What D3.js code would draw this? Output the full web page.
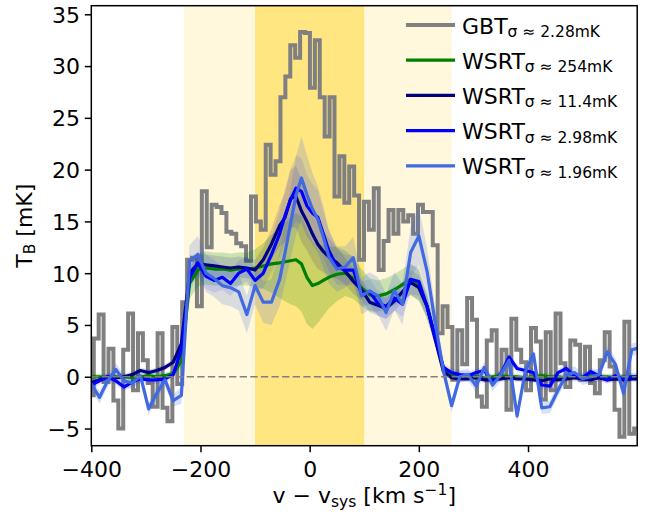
<!DOCTYPE html>
<html>
<head>
<meta charset="utf-8">
<script src="https://cdn.jsdelivr.net/npm/d3@7"></script>
<style>
  html, body { margin: 0; padding: 0; background: #fff; }
  svg { display: block; font-family: "DejaVu Sans", sans-serif; }
</style>
</head>
<body>
<svg id="chart" width="652" height="518"></svg>
<script>
// ---- GBT single-dish spectrum (km/s, mK) ----
const gbtVel = [
  -400,-391,-382,-373,-364,-355,-346,-337,-328,-319,
  -310,-301,-292,-283,-274,-265,-256,-247,-238,-229,
  -220,-211,-202,-193,-184,-175,-166,-157,-148,-139,
  -130,-121,-112,-103,-94,-85,-76,-67,-58,-49,
  -40,-31,-22,-13,-4,5,14,23,32,41,
  50,59,68,77,86,95,104,113,122,131,
  140,149,158,167,176,185,194,203,212,221,
  230,239,248,257,266,275,284,293,302,311,
  320,329,338,347,356,365,374,383,392,401,
  410,419,428,437,446,455,464,473,482,491,
  500,509,518,527,536,545,554,563,572,581,
  590,599
];
const gbtTB = [
  -1.8,3.7,6.0,-0.5,2.7,-2.3,-5.0,2.6,6.1,-1.3,
  4.2,1.6,-0.6,-2.9,4.2,-3.0,-4.3,4.8,-0.7,7.2,
  11.3,11.5,6.8,17.9,12.5,16.6,16.4,15.8,14.0,13.8,
  12.9,12.6,11.2,17.4,15.0,14.2,22.4,19.5,20.8,27.0,
  29.0,32.0,30.8,33.3,33.2,27.9,32.5,27.0,23.2,27.0,
  17.4,21.3,16.8,20.3,17.5,11.3,16.9,14.2,18.2,10.3,
  13.1,16.1,13.8,16.1,15.0,15.6,13.8,16.6,15.9,15.9,
  12.7,4.2,6.8,4.8,-0.3,4.5,1.2,7.6,5.5,-1.9,
  -2.9,3.5,4.5,0.3,2.6,-3.2,5.6,2.6,1.4,-1.3,
  4.7,3.4,-2.2,4.3,-1.3,6.1,1.3,-1.0,3.5,3.1,
  -0.3,2.9,-0.6,-1.6,1.6,4.3,1.0,-3.2,-5.8,5.3,
  -5.5,-5.0
];

// ---- WSRT spectra on a shared velocity grid (km/s) ----
const wsrtVel = [
  -400,-385,-370,-355,-340,-325,-310,-295,-280,-265,-250,
  -235,-220,-205,-190,-175,-160,-145,-130,-115,-100,-85,
  -70,-55,-45,-35,-25,-15,-5,5,15,25,35,
  50,65,80,95,110,125,140,155,170,185,200,
  215,230,245,260,275,290,305,320,335,350,365,
  380,395,410,425,440,455,470,485,500,515,530,
  545,560,575,590,605
];
// sigma ~ 254 mK
const wsrt254 = [
  0.0,0.0,-0.1,0.0,0.0,-0.1,0.0,0.1,0.0,0.1,0.3,
  1.5,9.0,10.3,10.5,10.4,10.4,10.3,10.4,10.4,10.5,10.7,
  10.9,11.0,11.1,11.2,11.3,10.9,9.6,8.8,9.0,9.3,9.6,
  9.9,10.0,9.5,8.6,7.9,7.8,8.0,8.4,8.9,9.4,8.8,
  6.8,3.8,0.8,0.1,0.0,0.1,0.0,-0.1,0.0,0.1,0.0,
  0.0,-0.1,0.0,0.1,0.0,0.0,-0.1,0.0,0.0,0.1,0.0,
  0.0,-0.1,0.0,0.0,0.0
];
const wsrt254Err = [
  0.3,0.3,0.3,0.3,0.3,0.3,0.3,0.3,0.3,0.3,0.3,
  0.6,1.5,1.6,1.6,1.6,1.6,1.6,1.6,1.6,1.8,2.2,
  2.8,3.4,3.8,4.2,4.5,4.6,4.5,4.2,3.8,3.4,3.0,
  2.6,2.2,2.0,1.8,1.6,1.5,1.5,1.5,1.5,1.5,1.5,
  1.2,0.8,0.4,0.3,0.3,0.3,0.3,0.3,0.3,0.3,0.3,
  0.3,0.3,0.3,0.3,0.3,0.3,0.3,0.3,0.3,0.3,0.3,
  0.3,0.3,0.3,0.3,0.3
];
// sigma ~ 11.4 mK
const wsrt114 = [
  -0.6,-0.3,0.0,-0.1,0.0,0.2,0.6,0.4,0.6,0.9,1.4,
  3.2,10.0,10.9,10.8,10.7,10.6,10.5,10.6,10.5,10.3,11.3,
  12.8,14.6,15.4,17.2,17.4,16.0,15.0,13.8,12.8,12.1,11.6,
  11.0,10.2,9.2,8.4,7.2,6.9,6.6,7.3,8.2,9.1,8.6,
  6.8,3.6,0.5,-0.1,-0.2,-0.2,-0.1,-0.3,-0.3,-0.2,-0.1,
  -0.2,-0.2,-0.3,-0.4,-0.2,-0.3,-0.2,-0.1,-0.2,-0.3,-0.1,
  -0.3,-0.2,-0.3,-0.2,-0.2
];
const wsrt114Err = [
  0.3,0.3,0.3,0.3,0.3,0.3,0.3,0.3,0.3,0.3,0.3,
  0.5,1.0,1.0,1.0,1.0,1.0,1.0,1.0,1.0,1.0,1.2,
  1.5,2.0,2.4,2.8,3.0,3.0,2.8,2.6,2.4,2.0,1.8,
  1.5,1.3,1.2,1.0,1.0,1.0,1.0,1.0,1.0,1.2,1.2,
  1.0,0.6,0.3,0.3,0.3,0.3,0.3,0.3,0.3,0.3,0.3,
  0.3,0.3,0.3,0.3,0.3,0.3,0.3,0.3,0.3,0.3,0.3,
  0.3,0.3,0.3,0.3,0.3
];
// sigma ~ 2.98 mK
const wsrt298 = [
  -0.8,-0.4,0.0,-0.4,-1.0,-0.5,-0.2,-0.3,-0.3,-0.2,0.2,
  2.6,9.5,11.0,9.7,9.3,9.6,9.0,10.0,10.4,9.3,10.0,
  11.8,13.8,15.6,17.1,18.2,17.9,16.5,15.8,15.4,13.8,12.2,
  10.6,10.3,10.3,8.0,8.2,7.1,6.8,7.6,7.0,9.4,9.2,
  6.8,3.8,0.9,0.4,0.2,0.1,0.4,0.6,-0.5,0.2,1.9,
  0.8,0.6,0.4,-0.8,-0.9,0.4,0.8,0.1,-0.1,0.5,0.1,
  -0.3,0.1,-0.2,0.0,0.0
];
const wsrt298Err = [
  0.4,0.4,0.4,0.4,0.4,0.4,0.4,0.4,0.4,0.4,0.4,
  0.6,1.2,1.2,1.2,1.2,1.2,1.2,1.2,1.2,1.2,1.4,
  1.7,2.2,2.6,3.0,3.2,3.2,3.0,2.8,2.6,2.2,2.0,
  1.7,1.5,1.4,1.2,1.2,1.2,1.2,1.2,1.2,1.4,1.4,
  1.2,0.8,0.4,0.4,0.4,0.4,0.4,0.4,0.4,0.4,0.4,
  0.4,0.4,0.4,0.4,0.4,0.4,0.4,0.4,0.4,0.4,0.4,
  0.4,0.4,0.4,0.4,0.4
];
// sigma ~ 1.96 mK
const wsrt196 = [
  -0.7,-2.0,-0.4,0.7,-0.4,-0.6,0.1,-3.1,-1.6,-0.3,-2.3,
  -1.8,11.2,11.8,10.0,9.5,8.8,8.6,8.2,6.0,8.8,7.2,
  7.2,9.4,12.0,14.8,17.5,19.2,17.6,16.2,15.2,13.5,11.6,
  10.4,10.6,11.5,7.8,8.3,7.8,6.2,8.3,7.0,12.0,13.6,
  10.2,5.2,0.6,-2.8,0.0,0.2,-0.9,0.9,-0.8,0.2,1.6,
  -3.8,0.5,2.2,-3.0,-2.9,-1.3,0.2,0.4,-0.2,0.0,0.2,
  2.4,1.2,-1.6,2.6,2.8
];
const wsrt196Err = [
  0.6,0.6,0.6,0.6,0.6,0.6,0.6,0.6,0.6,0.6,0.6,
  0.8,1.5,1.8,1.8,1.8,1.8,1.8,1.8,1.8,1.8,2.0,
  2.2,2.6,3.0,3.4,3.8,4.0,3.8,3.5,3.2,3.0,2.6,
  2.2,2.0,2.0,1.8,1.8,1.8,1.8,1.8,2.0,2.4,2.8,
  2.2,1.5,0.8,0.6,0.6,0.6,0.6,0.6,0.6,0.6,0.6,
  0.6,0.6,0.6,0.6,0.6,0.6,0.6,0.6,0.6,0.6,0.6,
  0.6,0.6,0.6,0.6,0.6
];

// ---- labels, ticks and highlighted velocity ranges ----
const legendNames = ["GBT", "WSRT", "WSRT", "WSRT", "WSRT"];
const legendSubs = ["σ ≈ 2.28mK", "σ ≈ 254mK", "σ ≈ 11.4mK", "σ ≈ 2.98mK", "σ ≈ 1.96mK"];
const lineColors = ["#808080", "#008000", "#000080", "#0000ff", "#4169e1"];
const xTicks = [-400, -200, 0, 200, 400];
const yTicks = [-5, 0, 5, 10, 15, 20, 25, 30, 35];
const outerRange = [-230, 260];
const innerRange = [-100, 100];

// ---- layout ----
const svg = d3.select("#chart");
const box = { left: 91.3, right: 637.2, top: 5.7, bottom: 445.7 };
const x = d3.scaleLinear().domain([-400, 600]).range([box.left, box.right]);
const y = d3.scaleLinear().domain([-6.66, 35.83]).range([box.bottom, box.top]);
const FS = 22, FS_SUB = 15.5;

svg.append("defs").append("clipPath").attr("id", "plotClip")
  .append("rect")
  .attr("x", box.left).attr("y", box.top)
  .attr("width", box.right - box.left).attr("height", box.bottom - box.top);

const plot = svg.append("g").attr("clip-path", "url(#plotClip)");

// shaded velocity ranges
plot.append("rect")
  .attr("x", x(outerRange[0])).attr("y", box.top)
  .attr("width", x(outerRange[1]) - x(outerRange[0]))
  .attr("height", box.bottom - box.top)
  .attr("fill", "#fff8dc");
plot.append("rect")
  .attr("x", x(innerRange[0])).attr("y", box.top)
  .attr("width", x(innerRange[1]) - x(innerRange[0]))
  .attr("height", box.bottom - box.top)
  .attr("fill", "#ffe680");

// GBT step spectrum
const gbt = gbtVel.map((v, i) => ({ v, t: gbtTB[i] }));
plot.append("path")
  .datum(gbt)
  .attr("fill", "none")
  .attr("stroke", lineColors[0])
  .attr("stroke-width", 4)
  .attr("stroke-linejoin", "miter")
  .attr("d", d3.line().x(d => x(d.v)).y(d => y(d.t)).curve(d3.curveStep));

// WSRT spectra with their uncertainty bands
const wsrtSeries = [
  { vals: wsrt254, err: wsrt254Err, color: lineColors[1], alpha: 0.2 },
  { vals: wsrt114, err: wsrt114Err, color: lineColors[2], alpha: 0.13 },
  { vals: wsrt298, err: wsrt298Err, color: lineColors[3], alpha: 0.1 },
  { vals: wsrt196, err: wsrt196Err, color: lineColors[4], alpha: 0.2 }
];
const rows = s => wsrtVel.map((v, i) => ({ v, t: s.vals[i], e: s.err[i] }));

wsrtSeries.forEach(s => {
  plot.append("path")
    .datum(rows(s))
    .attr("fill", s.color)
    .attr("fill-opacity", s.alpha)
    .attr("stroke", "none")
    .attr("d", d3.area().x(d => x(d.v)).y0(d => y(d.t - d.e)).y1(d => y(d.t + d.e)));
});
wsrtSeries.forEach(s => {
  plot.append("path")
    .datum(rows(s))
    .attr("fill", "none")
    .attr("stroke", s.color)
    .attr("stroke-width", 3.2)
    .attr("stroke-linejoin", "round")
    .attr("stroke-linecap", "round")
    .attr("d", d3.line().x(d => x(d.v)).y(d => y(d.t)));
});

// zero level
plot.append("line")
  .attr("x1", box.left).attr("x2", box.right)
  .attr("y1", y(0)).attr("y2", y(0))
  .attr("stroke", "#808080")
  .attr("stroke-width", 1.6)
  .attr("stroke-dasharray", "7.3,3.3");

// axes
const xAxis = d3.axisBottom(x).tickValues(xTicks).tickSize(6.5).tickPadding(9.5);
const yAxis = d3.axisLeft(y).tickValues(yTicks).tickSize(6.5).tickPadding(4.8);

const gx = svg.append("g").attr("transform", `translate(0,${box.bottom})`).call(xAxis);
const gy = svg.append("g").attr("transform", `translate(${box.left},0)`).call(yAxis);
[gx, gy].forEach(g => {
  g.select(".domain").remove();
  g.selectAll(".tick line").attr("stroke", "#000").attr("stroke-width", 1.5);
  g.selectAll(".tick text")
    .attr("font-family", "DejaVu Sans")
    .attr("font-size", FS)
    .attr("fill", "#000");
});
gy.selectAll(".tick text").attr("dy", "0.36em");

// frame
svg.append("rect")
  .attr("x", box.left).attr("y", box.top)
  .attr("width", box.right - box.left).attr("height", box.bottom - box.top)
  .attr("fill", "none").attr("stroke", "#000").attr("stroke-width", 1.5);

// axis titles
const xl = svg.append("text")
  .attr("x", (box.left + box.right) / 2).attr("y", 503)
  .attr("text-anchor", "middle").attr("font-size", FS);
xl.append("tspan").text("v − v");
xl.append("tspan").attr("font-size", FS_SUB).attr("dy", 3.5).text("sys");
xl.append("tspan").attr("dy", -3.5).text(" [km s");
xl.append("tspan").attr("font-size", FS_SUB).attr("dy", -8).text("−1");
xl.append("tspan").attr("dy", 8).text("]");

const yl = svg.append("text")
  .attr("transform", `translate(31.5,${(box.top + box.bottom) / 2}) rotate(-90)`)
  .attr("text-anchor", "middle").attr("font-size", FS);
yl.append("tspan").text("T");
yl.append("tspan").attr("font-size", FS_SUB).attr("dy", 3.5).text("B");
yl.append("tspan").attr("dy", -3.5).text(" [mK]");

// legend
const legend = svg.append("g");
const legendTop = 25, legendStep = 35.2;
legendNames.forEach((name, i) => {
  const ly = legendTop + i * legendStep;
  legend.append("line")
    .attr("x1", 406).attr("x2", 455).attr("y1", ly).attr("y2", ly)
    .attr("stroke", lineColors[i]).attr("stroke-width", i === 0 ? 4 : 3.2);
  const t = legend.append("text")
    .attr("x", 462).attr("y", ly + 8.5).attr("font-size", FS);
  t.append("tspan").text(name);
  t.append("tspan").attr("font-size", FS_SUB).attr("dy", 3.5).text(legendSubs[i]);
});
</script>
</body>
</html>
